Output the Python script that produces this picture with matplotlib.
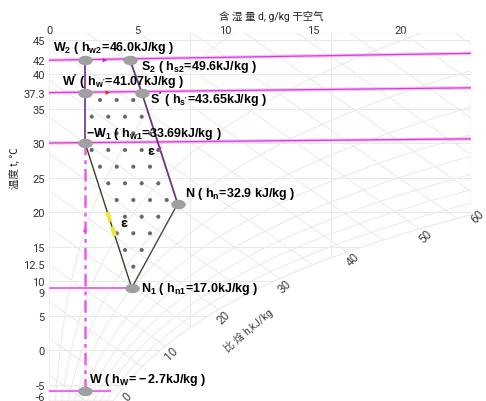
import numpy as np
import matplotlib
matplotlib.use('Agg')
import matplotlib.pyplot as plt
from matplotlib.patches import Polygon
from matplotlib.path import Path
from matplotlib.transforms import Affine2D, ScaledTranslation

plt.rcParams['font.family'] = ['Roboto', 'Noto Sans CJK SC', 'DejaVu Sans']
plt.rcParams['mathtext.fontset'] = 'custom'
plt.rcParams['mathtext.rm'] = 'Liberation Sans'
plt.rcParams['mathtext.it'] = 'Liberation Sans:italic'
plt.rcParams['mathtext.bf'] = 'Liberation Sans:bold'
plt.rcParams['mathtext.default'] = 'bf'
plt.rcParams['hatch.linewidth'] = 0.5

# process state points (d in g/kg dry air, t in deg C)
point_names = ['W2', 'S2', "W'", "S'", 'W1', 'N', 'N1', 'W']
point_d = [2.05, 4.6, 2.05, 5.27, 2.05, 7.31, 4.7, 2.05]
point_t = [42.0, 42.0, 37.3, 37.3, 30.0, 21.2, 9.0, -6.0]
point_labels = [
    r'$W_2\ (\ h_{w2}\!=\!46.0kJ/kg\ )$',
    r'$S_2\ (\ h_{s2}\!=\!49.6kJ/kg\ )$',
    r"$W'\ (\ h_{w'}\!=\!41.07kJ/kg\ )$",
    r"$S'\ (\ h_{s'}\!=\!43.65kJ/kg\ )$",
    r'$-W_1\ (\ h_{w1}\!=\!33.69kJ/kg\ )$',
    r'$N\ (\ h_n\!=\!32.9\ kJ/kg\ )$',
    r'$N_1\ (\ h_{n1}\!=\!17.0kJ/kg\ )$',
    r'$W\ (\ h_W\!=\!-2.7kJ/kg\ )$',
]
# label offsets from the marker, in points
label_dx = [-23, 8, -16.5, 6, 0.7, 5, 6.5, 3]
label_dy = [9.4, -4.3, 8.6, -4.3, 7.2, 7.9, 0, 8.6]

# long isotherm lines (slightly rising to the right on this chart)
iso_t_left = [42.0, 37.3, 30.0]
iso_t_right = [43.0, 38.0, 30.6]

# axis ticks
d_ticks = [0, 5, 10, 15, 20]
t_ticks = [45, 42, 40, 37.3, 35, 30, 25, 20, 15, 12.5, 10, 9, 5, 0, -5, -6]

# background chart lines
rh_values = [10, 20, 30, 40, 50, 60, 70, 80, 90]
h_line_values = [-5, 0, 5, 10, 15, 20, 25, 30, 35, 40, 45, 50, 55, 60, 65, 70, 75, 80]
h_label_values = [0, 10, 20, 30, 40, 50, 60]
t_grid_values = [-5, 0, 5, 10, 15, 20, 25, 30, 35, 40, 45]
d_grid_values = [8, 16]

D_MAX, T_MIN, T_MAX = 24, -7.39, 46
D_STRETCH = 1.68                       # stretch of the d axis on this chart
H_T, H_D, H_0 = 0.936, 1.672, -1.59    # enthalpy lines as drawn on this chart


def d_of(t, rh=100):
    ps = 0.61094 * np.exp(17.625 * t / (t + 243.04))
    pw = rh / 100 * ps
    return D_STRETCH * 622 * pw / (101.325 - pw)


P = dict(zip(point_names, zip(point_d, point_t)))

fig = plt.figure(figsize=(4.86, 4.02), dpi=100)
ax = fig.add_axes([49 / 486, 0, 422.4 / 486, 368.4 / 402])
ax.set_xlim(0, D_MAX)
ax.set_ylim(T_MIN, T_MAX)
for s in ax.spines.values():
    s.set_visible(False)

# ---- background: region above the saturation curve ----
bg = '#e9e9e9'
tg = np.linspace(T_MIN, T_MAX, 300)
edge = np.minimum(d_of(tg), D_MAX)
region = Polygon(np.column_stack([np.r_[0, edge, 0], np.r_[T_MIN, tg, T_MAX]]),
                 closed=True, fill=False, ec=bg, lw=0.8)
ax.add_patch(region)

for rh in rh_values:
    ln, = ax.plot(d_of(tg, rh), tg, color=bg, lw=0.7)
    ln.set_clip_path(region)
dl = np.array([0, D_MAX])
for h in h_line_values:
    ln, = ax.plot(dl, (h - H_0 - H_D * dl) / H_T, color=bg, lw=0.7)
    ln.set_clip_path(region)
for t in t_grid_values:
    ln, = ax.plot([0, D_MAX], [t, t], color=bg, lw=0.7)
    ln.set_clip_path(region)
for d in d_grid_values:
    ln, = ax.plot([d, d], [T_MIN, T_MAX], color=bg, lw=0.7)
    ln.set_clip_path(region)

# enthalpy scale along the saturation edge
tb = np.linspace(-10, 30, 400)
hb = H_T * tb + H_D * d_of(tb) + H_0
for h in h_label_values:
    th = np.interp(h, hb, tb)
    ax.annotate(str(h), (min(d_of(th), D_MAX), th), xytext=(4, -5), textcoords='offset points',
                ha='center', va='center', rotation=45, fontsize=8.5,
                color='#444444', annotation_clip=False)
th = np.interp(25, hb, tb)
ax.annotate('比 焓 h,kJ/kg', (d_of(th), th), xytext=(0, -26), textcoords='offset points',
            ha='center', va='center', rotation=40, fontsize=7.5, color='#444444',
            annotation_clip=False)

# ---- process lines ----
for t0, t1 in zip(iso_t_left, iso_t_right):
    ax.plot([0, D_MAX], [t0, t1], color='#f4b8f4', lw=2.6, alpha=0.8,
            solid_capstyle='butt', zorder=3)
    ax.plot([0, D_MAX], [t0, t1], color='#d040d0', lw=0.9, zorder=3)

ax.plot([0, P['N1'][0]], [P['N1'][1]] * 2, color='#ee66ee', lw=1.4, zorder=3)
ax.plot([0, 3.45], [P['W'][1]] * 2, color='#ee66ee', lw=1.4, zorder=3)
ax.plot([P['W'][0], P['W1'][0]], [P['W'][1], P['W1'][1]], color='#e860e8', lw=1.8,
        ls=(0, (5, 2, 1.5, 2)), zorder=3)
ax.plot([P['W1'][0], P['W2'][0]], [P['W1'][1], P['W2'][1]], color='#7d3c98', lw=1.3, zorder=4)
ax.plot([P['S2'][0], P["S'"][0], P['N'][0]], [P['S2'][1], P["S'"][1], P['N'][1]],
        color='#6c3483', lw=1.3, zorder=4)
ax.plot([P['N'][0], P['N1'][0]], [P['N'][1], P['N1'][1]], color='#444444', lw=1.0, zorder=4)
ax.plot([P['W1'][0], P['N1'][0]], [P['W1'][1], P['N1'][1]], color='#3d3d1f', lw=1.0, zorder=4)

# stippled process zone
zone = [P[k] for k in ["W'", "S'", 'N', 'N1', 'W1']]
ax.add_patch(Polygon(zone, closed=True, fill=False, hatch='.', ec='#666666', lw=0, zorder=2))

# yellow marks on W1-N1
for tm in [19.3, 17.2]:
    seg_t = np.array([tm + 0.4, tm - 0.4])
    seg_d = np.interp(seg_t, [P['N1'][1], P['W1'][1]], [P['N1'][0], P['W1'][0]])
    ax.plot(seg_d, seg_t, color='#f2e33c', lw=3, zorder=5)

# arrow heads along the process lines (from, to, fraction, color)
arrows = [('W2', 'S2', 0.49, '#cc22cc'), ("W'", "S'", 0.44, '#e02a2a'),
          ('W', 'W1', 0.66, '#ff33ff'), ("S'", 'N', 0.53, '#cc22cc')]
for a, b, f, c in arrows:
    (x0, y0), (x1, y1) = P[a], P[b]
    tip = (x0 + f * (x1 - x0), y0 + f * (y1 - y0))
    tail = (x0 + (f - 0.04) * (x1 - x0), y0 + (f - 0.04) * (y1 - y0))
    ax.annotate('', xy=tip, xytext=tail, zorder=6,
                arrowprops=dict(arrowstyle='-|>', color=c, lw=0, mutation_scale=8,
                                shrinkA=0, shrinkB=0))

ax.annotate('ε', (6.36, 28.7), xytext=(-7, 1), textcoords='offset points',
            ha='center', va='center', fontsize=9, fontweight='bold')
ax.annotate('ε', (3.55, 18.3), xytext=(9, 1), textcoords='offset points',
            ha='center', va='center', fontsize=9, fontweight='bold')

# state point markers and labels
ell = Path.unit_circle().transformed(Affine2D().scale(1.0, 0.62))
ax.plot(point_d, point_t, ls='none', marker=ell, ms=9.4, mfc='#a0a0a0', mec='#a0a0a0', zorder=7)
for d, t, lab, dx, dy in zip(point_d, point_t, point_labels, label_dx, label_dy):
    ax.annotate(lab, (d, t), xytext=(dx, dy), textcoords='offset points',
                ha='left', va='center', fontsize=9, color='black', zorder=8)

# ---- axes ----
ax.xaxis.set_ticks_position('top')
ax.set_xticks(d_ticks)
ax.set_yticks(t_ticks)
ax.set_yticklabels(['%g' % v for v in t_ticks])
ax.tick_params(axis='x', length=0, pad=-2, labelsize=8, colors='#333333')
ax.tick_params(axis='y', length=0, pad=3, labelsize=8, colors='#333333')
for lab, v in zip(ax.get_yticklabels(), t_ticks):
    if v in (9, -6):
        lab.set_transform(lab.get_transform() + ScaledTranslation(0, -3 / 72, fig.dpi_scale_trans))

fig.text(271 / 486, 1 - 16 / 402, '含 湿 量 d, g/kg 干空气', ha='center', va='center',
         fontsize=7.5, color='#222222')
fig.text(15 / 486, 1 - 168 / 402, '温度 t, ℃', ha='center', va='center', rotation=90,
         fontsize=7.5, color='#222222')

fig.savefig('out.png', dpi=100)
